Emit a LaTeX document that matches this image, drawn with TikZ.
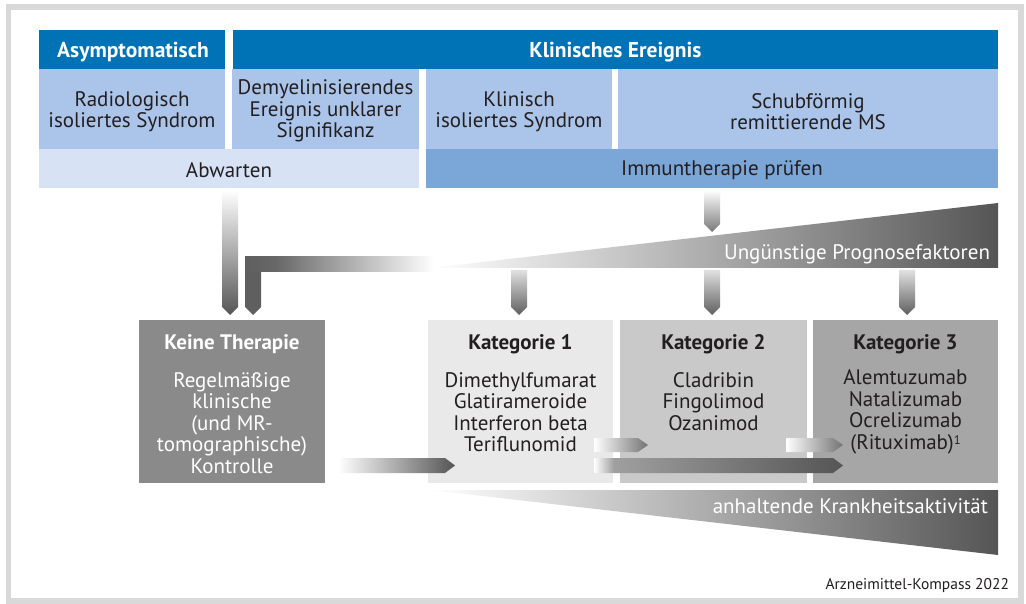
\documentclass[tikz,border=0pt]{standalone}
\usepackage{fontspec}
\setmainfont{PT Sans}
\definecolor{hdrblue}{HTML}{0073B7}
\definecolor{lblue}{HTML}{ABC4E9}
\definecolor{pblue}{HTML}{D7E3F5}
\definecolor{mblue}{HTML}{7BA6D8}
\definecolor{txt}{HTML}{231F20}
\definecolor{kgray}{HTML}{8A8A8A}
\definecolor{kone}{HTML}{E9E9E9}
\definecolor{ktwo}{HTML}{C9C9C9}
\definecolor{kthree}{HTML}{A6A6A6}
\definecolor{dk}{HTML}{555555}
\definecolor{lgr}{HTML}{5F5F5F}
\definecolor{framegray}{HTML}{D9D9D9}
\pgfdeclarehorizontalshading{longfade}{100bp}{color(0bp)=(white); color(25bp)=(white); color(29bp)=(gray!75); color(75bp)=(dk); color(100bp)=(dk)}
\pgfdeclarehorizontalshading{lfade}{100bp}{color(0bp)=(lgr); color(25bp)=(lgr); color(33bp)=(lgr!95); color(75bp)=(white); color(100bp)=(white)}
\newcommand\vArr[6]{\path[#6] (#1,#3) -- (#2,#3) -- (#2,#4) -- ({(#1+#2)/2},#5) -- (#1,#4) -- cycle;}
\newcommand\hArr[6]{\path[#6] (#3,#1) -- (#4,#1) -- (#5,{(#1+#2)/2}) -- (#4,#2) -- (#3,#2) -- cycle;}
\begin{document}
\begin{tikzpicture}[x=1pt,y=-1pt,
  every node/.style={font=\fontsize{21}{21.5}\selectfont, inner sep=0pt, outer sep=0pt, align=center, text=txt},
  box/.style={rectangle, minimum height=#1},
  hdr/.style={box=39, fill=hdrblue},
  hdrtext/.style={text=white, font=\fontsize{21.5}{22}\selectfont\bfseries},
  sub/.style={box=80, fill=lblue},
  act/.style={box=39},
  cat/.style={box=163},
  ttl/.style={font=\fontsize{21}{22}\selectfont\bfseries},
  wtext/.style={text=white}
]
\useasboundingbox (0,0) rectangle (1026,604);
\fill[white] (0,0) rectangle (1026,604);
\draw[framegray, line width=5.5pt] (8.5,7) rectangle (1021,601);

% header row
\node[hdr, minimum width=186] (asym) at (132,49.5) {};
\node[hdr, minimum width=765.5] (klin) at (615.25,49.5) {};
\node[hdrtext] (asymt) at (133,52) {Asymptomatisch};
\node[hdrtext] (klint) at (615.5,52) {Klinisches Ereignis};
% second row
\node[sub, minimum width=186] (radio) at (132,109) {};
\node[sub, minimum width=187] (demy) at (325.5,109) {};
\node[sub, minimum width=186] (cis) at (519,109) {};
\node[sub, minimum width=380] (rrms) at (808,109) {};
\node (radiot) at (132,111.5) {Radiologisch\\isoliertes Syndrom};
\node (demyt) at (325.5,111) {Demyelinisierendes\\Ereignis unklarer\\Signifikanz};
\node (cist) at (519,111.5) {Klinisch\\isoliertes Syndrom};
\node (rrmst) at (808,111.5) {Schubförmig\\remittierende MS};
% third row
\node[act, fill=pblue, minimum width=380] (abw) at (229,168.5) {};
\node[act, fill=mblue, minimum width=572] (immun) at (712,168.5) {};
\node (abwt) at (229,170.5) {Abwarten};
\node (immuntxt) at (722,170.5) {Immuntherapie prüfen};

% arrows from top
\vArr{222}{238}{190}{307}{315}{top color=white, bottom color=dk}
\vArr{704}{720}{190}{224}{232}{top color=white, bottom color=gray!95!black}

% upper wedge
\path[left color=white, right color=dk] (430,268) -- (998,203) -- (998,268) -- cycle;
\node[wtext, anchor=east] (ungue) at (990,254.5) {Ungünstige Prognosefaktoren};

% L-arrow
\vArr{245}{261}{260}{307}{315}{fill=lgr}
\path[shading=lfade] (245,257) rectangle (434,272);

% arrows below wedge
\vArr{511}{527}{270}{307}{315}{top color=white!88!black, bottom color=lgr}
\vArr{704}{720}{270}{307}{315}{top color=white!88!black, bottom color=lgr}
\vArr{899}{915}{270}{307}{315}{top color=white!88!black, bottom color=lgr}

% bottom boxes
\node[cat, fill=kgray, minimum width=186] (keine) at (232,401.5) {};
\node[cat, fill=kone, minimum width=185] (kat1) at (520.5,401.5) {};
\node[cat, fill=ktwo, minimum width=187] (kat2) at (713.5,401.5) {};
\node[cat, fill=kthree, minimum width=185] (kat3) at (905.5,401.5) {};

\node[ttl, wtext] (keinet) at (232,344.5) {Keine Therapie};
\node[wtext] (keineb) at (232,423) {Regelmäßige\\klinische\\(und MR-\\tomographische)\\Kontrolle};
\node[ttl] (kat1t) at (520.5,344.5) {Kategorie 1};
\node (kat1b) at (520.5,412) {Dimethylfumarat\\Glatirameroide\\Interferon beta\\Teriflunomid};
\node[ttl] (kat2t) at (713.5,344.5) {Kategorie 2};
\node (kat2b) at (713.5,401.5) {Cladribin\\Fingolimod\\Ozanimod};
\node[ttl] (kat3t) at (905.5,344.5) {Kategorie 3};
\node (kat3b) at (905.5,412) {Alemtuzumab\\Natalizumab\\Ocrelizumab\\(Rituximab)\raisebox{5pt}{\fontsize{12.5}{12.5}\selectfont 1}};

% horizontal arrows
\hArr{458}{473}{338}{445}{455}{left color=white, right color=dk}
\hArr{438}{452}{594}{638}{648}{left color=white, right color=gray!90!black}
\hArr{438}{452}{786}{833}{843}{left color=white, right color=gray!90!black}
\hArr{458}{473}{594}{833}{843}{shading=longfade}

% lower wedge
\path[left color=white, right color=dk] (430,490) -- (998,490) -- (998,555) -- cycle;
\node[wtext, anchor=east] (anh) at (988,506.5) {anhaltende Krankheitsaktivität};

\node[anchor=east, font=\fontsize{15.5}{18}\selectfont] (src) at (1009,586) {Arzneimittel-Kompass 2022};
\end{tikzpicture}
\end{document}
